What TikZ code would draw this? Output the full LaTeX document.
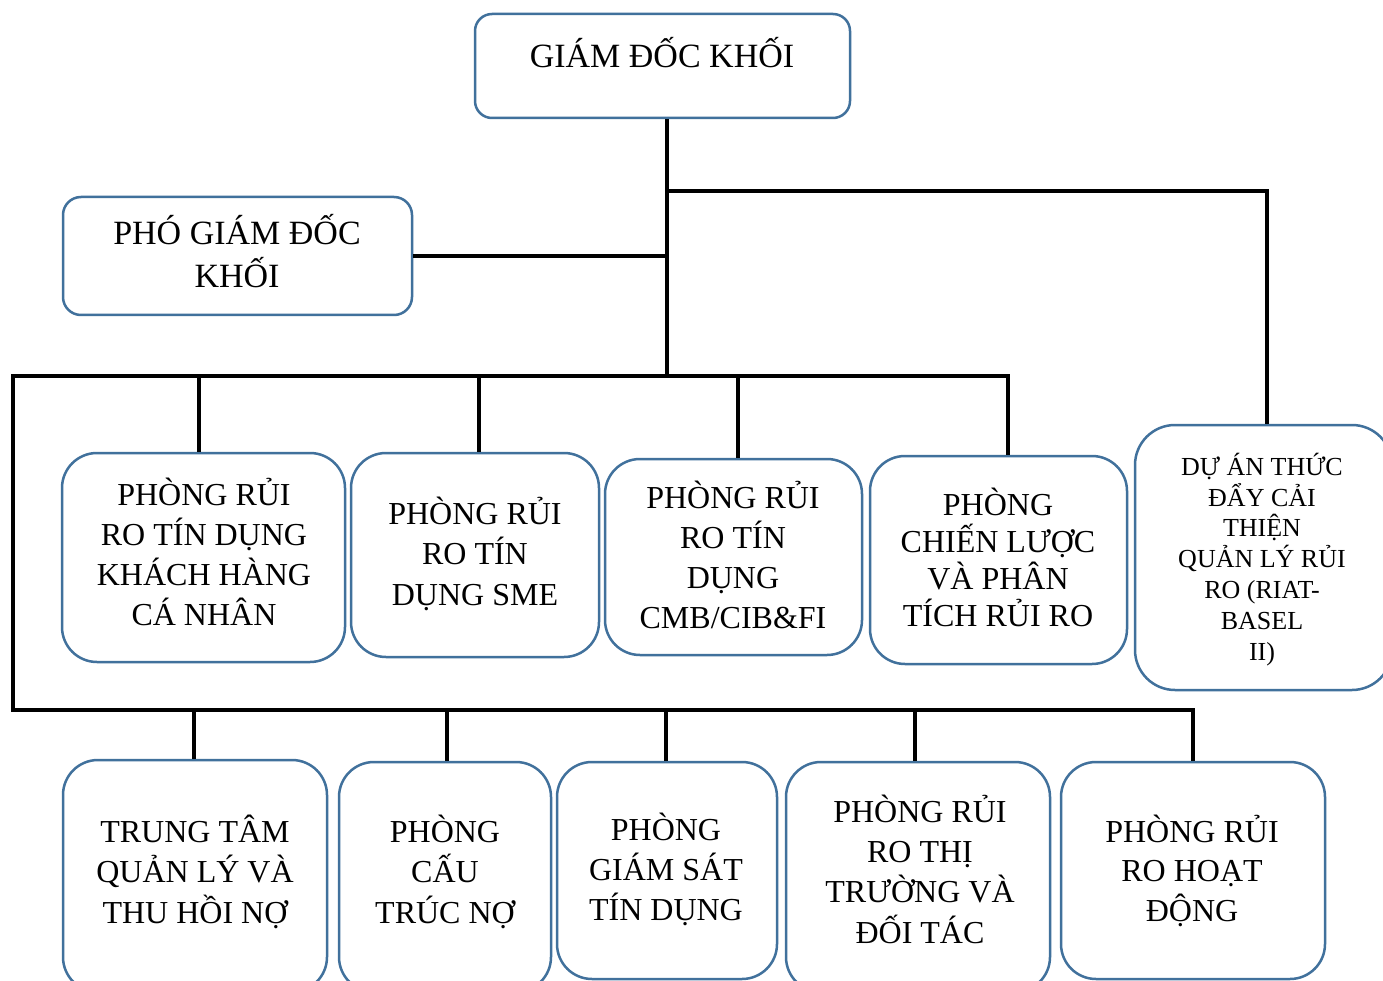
\documentclass[tikz,border=0pt]{standalone}
\usepackage{fontspec}
\setmainfont{Liberation Serif}
\definecolor{boxblue}{HTML}{41719C}
% zero-width strut that fixes the top of the first text line
\newcommand\lnstart{\rule{0pt}{1.1em}}
\tikzset{
  box/.style={draw=boxblue, line width=2.5pt, fill=white, inner sep=0pt, rounded corners=#1},
  box/.default=35pt,
  conn/.style={draw=black, line width=3.5pt},
  lbl/.style={anchor=north, inner sep=0pt, align=center},
  f32/.style={lbl, font=\fontsize{32}{40}\selectfont},
}
\begin{document}
\begin{tikzpicture}[x=1pt, y=-1pt]
\fill[white] (0,0) rectangle (1383,981);
\useasboundingbox (0,0) rectangle (1383,981);

% ---- boxes ----
\node[box=17pt, minimum width=375pt, minimum height=104pt] (gd)  at (662.5,66) {};
\node[box=18pt, minimum width=349pt, minimum height=118pt] (pgd) at (237.5,256) {};

\node[box, minimum width=283pt, minimum height=209pt] (b1) at (203.5,557.5) {};
\node[box, minimum width=248pt, minimum height=204pt] (b2) at (475,555) {};
\node[box, minimum width=257pt, minimum height=196pt] (b3) at (733.5,557) {};
\node[box, minimum width=257pt, minimum height=208pt] (b4) at (998.5,560) {};
\node[box=40pt, minimum width=257pt, minimum height=265pt] (da) at (1263.5,557.5) {};

\node[box, minimum width=264pt, minimum height=232pt] (c1) at (195,876) {};
\node[box, minimum width=212pt, minimum height=230pt] (c2) at (445,877) {};
\node[box, minimum width=220pt, minimum height=217pt] (c3) at (667,870.5) {};
\node[box, minimum width=264pt, minimum height=230pt] (c4) at (918,877) {};
\node[box, minimum width=264pt, minimum height=217pt] (c5) at (1193,870.5) {};

% ---- texts ----
\node[lbl, font=\fontsize{34}{40}\selectfont] (gdt) at (662,{67-37.4}) {\lnstart GIÁM ĐỐC KHỐI};
\node[lbl, font=\fontsize{34}{43}\selectfont] (pgdt) at (237,{244-37.4}) {\lnstart PHÓ GIÁM ĐỐC\\KHỐI};

\node[f32] (b1t) at (204,{505-35.2}) {\lnstart PHÒNG RỦI\\RO TÍN DỤNG\\KHÁCH HÀNG\\CÁ NHÂN};
\node[lbl, font=\fontsize{32}{40.5}\selectfont] (b2t) at (475,{524-35.2}) {\lnstart PHÒNG RỦI\\RO TÍN\\DỤNG SME};
\node[f32] (b3t) at (733,{508-35.2}) {\lnstart PHÒNG RỦI\\RO TÍN\\DỤNG\\CMB/CIB\&FI};
\node[lbl, font=\fontsize{32}{37}\selectfont] (b4t) at (998,{515-35.2}) {\lnstart PHÒNG\\CHIẾN LƯỢC\\VÀ PHÂN\\TÍCH RỦI RO};
\node[lbl, font=\fontsize{26}{30.8}\selectfont] (dat) at (1262,{475-28.6}) {\lnstart DỰ ÁN THỨC\\ĐẨY CẢI\\THIỆN\\QUẢN LÝ RỦI\\RO (RIAT-\\BASEL\\II)};

\node[lbl, font=\fontsize{32}{40.5}\selectfont] (c1t) at (195,{842-35.2}) {\lnstart TRUNG TÂM\\QUẢN LÝ VÀ\\THU HỒI NỢ};
\node[lbl, font=\fontsize{32}{40.5}\selectfont] (c2t) at (445,{842-35.2}) {\lnstart PHÒNG\\CẤU\\TRÚC NỢ};
\node[f32] (c3t) at (666,{840-35.2}) {\lnstart PHÒNG\\GIÁM SÁT\\TÍN DỤNG};
\node[lbl, font=\fontsize{32}{40.3}\selectfont] (c4t) at (920,{822-35.2}) {\lnstart PHÒNG RỦI\\RO THỊ\\TRƯỜNG VÀ\\ĐỐI TÁC};
\node[lbl, font=\fontsize{32}{39.5}\selectfont] (c5t) at (1192,{842-35.2}) {\lnstart PHÒNG RỦI\\RO HOẠT\\ĐỘNG};

% ---- junction points of the tree ----
\coordinate (jtop) at (667,191);
\coordinate (hub)  at (667,376);
\coordinate (busL) at (13,376);
\coordinate (busR) at (1008,376);
\coordinate (lowL) at (13,710);
\coordinate (lowR) at (1193,710);

% ---- connectors ----
\draw[conn] ([xshift=4.5pt]gd.south) -- (hub);
\draw[conn] (jtop) -| ([xshift=3.5pt]da.north);
\draw[conn] (pgd.east) -- (pgd.east -| hub);

\draw[conn] (busR |- b4.north) -- (busR) -- (busL) -- (lowL) -- (lowR) -- (lowR |- c5.north);

\draw[conn] ([xshift=-4.5pt]b1.north |- hub) -- ([xshift=-4.5pt]b1.north);
\draw[conn] ([xshift=4pt]b2.north |- hub) -- ([xshift=4pt]b2.north);
\draw[conn] ([xshift=4.5pt]b3.north |- hub) -- ([xshift=4.5pt]b3.north);

\draw[conn] ([xshift=-1pt]c1.north |- lowL) -- ([xshift=-1pt]c1.north);
\draw[conn] ([xshift=2pt]c2.north |- lowL) -- ([xshift=2pt]c2.north);
\draw[conn] ([xshift=-1pt]c3.north |- lowL) -- ([xshift=-1pt]c3.north);
\draw[conn] ([xshift=-3pt]c4.north |- lowL) -- ([xshift=-3pt]c4.north);
\end{tikzpicture}
\end{document}
